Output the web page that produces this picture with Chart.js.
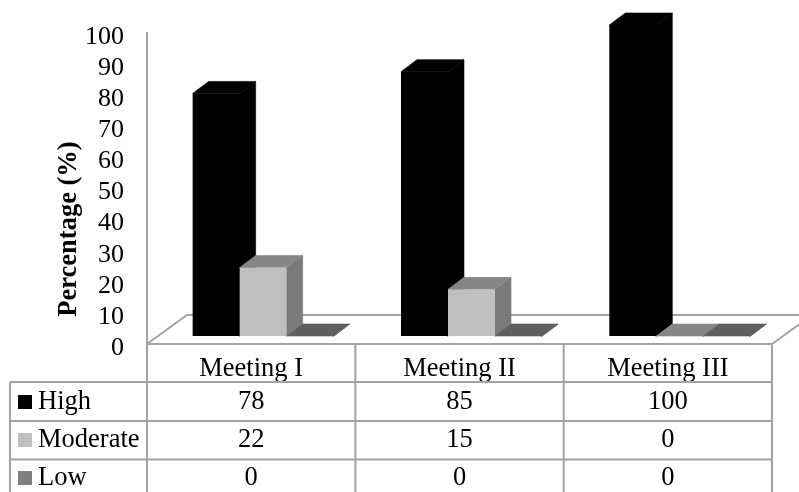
<!DOCTYPE html>
<html>
<head>
<meta charset="utf-8">
<style>
  html, body { margin: 0; padding: 0; background: #fff; overflow: hidden; }
  canvas { display: block; }
</style>
<script src="https://cdn.jsdelivr.net/npm/chart.js@4"></script>
</head>
<body>
<canvas id="chart" width="799" height="492"></canvas>
<script>
const categories = ['Meeting I', 'Meeting II', 'Meeting III'];
const highValues = [78, 85, 100];
const moderateValues = [22, 15, 0];
const lowValues = [0, 0, 0];

const SERIF = '"Liberation Serif", "Times New Roman", serif';
const LINE = '#a3a3a3';
const TEXT_SIZE = 26.5;

// bars stand back from the front edge of the floor
const BAR_SHIFT_X = 12;
const BAR_SHIFT_Y = -8;
const BAR_DEPTH_X = 16;
const BAR_DEPTH_Y = -12;
const FLOOR_DEPTH_X = 40;
const FLOOR_DEPTH_Y = -29;

// thin stroke in the fill colour closes the seams between faces
const polygon = (ctx, color, pts) => {
  ctx.fillStyle = color;
  ctx.strokeStyle = color;
  ctx.lineWidth = 0.6;
  ctx.beginPath();
  pts.forEach((p, i) => (i ? ctx.lineTo(p[0], p[1]) : ctx.moveTo(p[0], p[1])));
  ctx.closePath();
  ctx.fill();
  ctx.stroke();
};

const floorPlugin = {
  id: 'floor',
  beforeDatasetsDraw(chart) {
    const { ctx, chartArea: a } = chart;
    ctx.save();
    ctx.strokeStyle = LINE;
    ctx.lineWidth = 2;
    ctx.beginPath();
    ctx.moveTo(a.left, a.bottom);
    ctx.lineTo(a.left + FLOOR_DEPTH_X, a.bottom + FLOOR_DEPTH_Y);
    ctx.lineTo(a.right + FLOOR_DEPTH_X, a.bottom + FLOOR_DEPTH_Y);
    ctx.lineTo(a.right, a.bottom);
    ctx.stroke();
    ctx.restore();
  },
};

// the library paints the last dataset first, here each series has to overlap
// the one after it, so the bars are painted by hand from first to last:
// side and top faces, then the bar element itself as the front face
const depthPlugin = {
  id: 'depth',
  beforeDatasetDraw() {
    return false;
  },
  afterDatasetsDraw(chart) {
    const { ctx } = chart;
    ctx.save();
    ctx.translate(BAR_SHIFT_X, BAR_SHIFT_Y);
    chart.data.datasets.forEach((ds, index) => {
      chart.getDatasetMeta(index).data.forEach((bar) => {
        const l = bar.x - bar.width / 2;
        const r = bar.x + bar.width / 2;
        const dx = BAR_DEPTH_X;
        const dy = BAR_DEPTH_Y;
        polygon(ctx, ds.sideColor, [[r - 1, bar.y], [r, bar.y], [r + dx, bar.y + dy], [r + dx, bar.base + dy], [r, bar.base], [r - 1, bar.base]]);
        polygon(ctx, ds.topColor, [[l, bar.y], [l + dx, bar.y + dy], [r + dx, bar.y + dy], [r, bar.y]]);
        bar.draw(ctx);
      });
    });
    ctx.restore();
  },
};

const tablePlugin = {
  id: 'dataTable',
  afterDraw(chart) {
    const { ctx, chartArea: a } = chart;
    const columnWidth = a.width / categories.length;
    const rowLines = [382, 421, 459.5];
    const rowCentres = [402, 440, 478];
    const tableLeft = 10;

    ctx.save();
    ctx.strokeStyle = LINE;
    ctx.lineWidth = 2;
    ctx.beginPath();
    for (let i = 0; i <= categories.length; i++) {
      const x = a.left + i * columnWidth;
      ctx.moveTo(x, a.bottom);
      ctx.lineTo(x, 492);
    }
    rowLines.forEach((y) => {
      ctx.moveTo(tableLeft, y);
      ctx.lineTo(a.right, y);
    });
    ctx.moveTo(tableLeft, rowLines[0]);
    ctx.lineTo(tableLeft, 492);
    ctx.stroke();

    ctx.font = `${TEXT_SIZE}px ${SERIF}`;
    ctx.textBaseline = 'middle';
    chart.data.datasets.forEach((ds, row) => {
      const y = rowCentres[row];
      ctx.fillStyle = ds.backgroundColor;
      ctx.fillRect(18, y - 7, 14, 14);
      ctx.fillStyle = '#000';
      ctx.textAlign = 'left';
      ctx.fillText(ds.label, 38, y);
      ctx.textAlign = 'center';
      ds.data.forEach((v, col) => {
        ctx.fillText(String(v), a.left + (col + 0.5) * columnWidth, y);
      });
    });

    // axis title sits lower than the middle of the axis
    ctx.translate(69, 229);
    ctx.rotate(-Math.PI / 2);
    ctx.font = `bold ${TEXT_SIZE}px ${SERIF}`;
    ctx.textAlign = 'center';
    ctx.fillStyle = '#000';
    ctx.fillText('Percentage (%)', 0, 0);
    ctx.restore();
  },
};

new Chart(document.getElementById('chart'), {
  type: 'bar',
  data: {
    labels: categories,
    datasets: [
      { label: 'High', data: highValues, backgroundColor: '#000000', sideColor: '#000000', topColor: '#000000' },
      { label: 'Moderate', data: moderateValues, backgroundColor: '#bfbfbf', sideColor: '#7a7a7a', topColor: '#868686' },
      { label: 'Low', data: lowValues, backgroundColor: '#7f7f7f', sideColor: '#5f5f5f', topColor: '#5f5f5f' },
    ],
  },
  options: {
    responsive: false,
    animation: false,
    devicePixelRatio: 1,
    events: [],
    layout: { padding: { top: 33, right: 27, left: 0, bottom: 0 } },
    plugins: { legend: { display: false }, tooltip: { enabled: false } },
    datasets: { bar: { categoryPercentage: 0.677, barPercentage: 1, borderWidth: 0 } },
    scales: {
      x: {
        afterFit(scale) { scale.height = 148; },
        grid: { display: false, drawTicks: false },
        border: { color: LINE, width: 2 },
        ticks: { color: '#000', padding: 9, maxRotation: 0, font: { family: SERIF, size: TEXT_SIZE } },
      },
      y: {
        min: 0,
        max: 100,
        afterFit(scale) {
          scale.width = 147;
          scale.paddingTop = 0;
          scale.paddingBottom = 0;
        },
        grid: { display: false, drawTicks: false },
        border: { color: LINE, width: 2 },
        ticks: { stepSize: 10, autoSkip: false, color: '#000', padding: 23, labelOffset: 4, font: { family: SERIF, size: 26 } },
      },
    },
  },
  plugins: [floorPlugin, depthPlugin, tablePlugin],
});
</script>
</body>
</html>
